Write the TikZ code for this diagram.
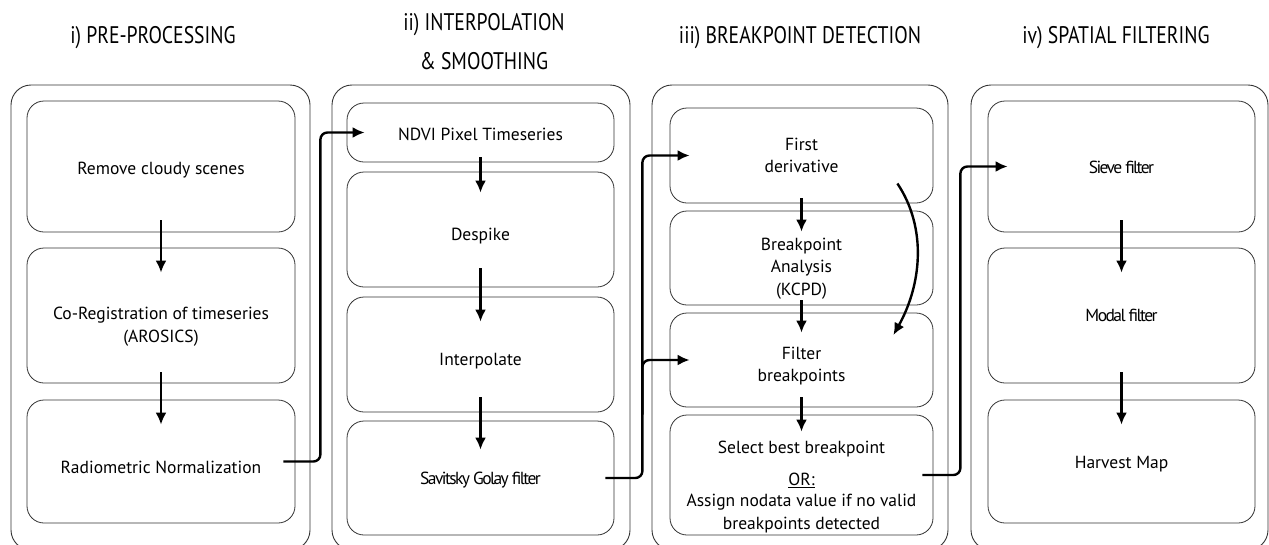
\documentclass[tikz,border=0pt]{standalone}
\usepackage{fontspec}
\setmainfont{PT Sans}
\newfontfamily\tightfont[LetterSpace=-9]{PT Sans}
\newfontfamily\headfont[FakeStretch=0.82]{PT Sans}
\usetikzlibrary{arrows.meta}
% text set lower inside its box, box size unchanged
\newcommand\lowered[2]{\raisebox{-#1pt}[\height][\depth]{\begin{tabular}{@{}c@{}}#2\end{tabular}}}

\begin{document}
\begin{tikzpicture}[
          x=1pt,y=-1pt,
          panel/.style={draw=black!80,line width=0.9pt,rounded corners=20pt},
          stepbox/.style={draw=black!80,line width=0.8pt,rounded corners=17pt,inner sep=0pt,
                          align=center,font=\fontsize{17.5}{22.5}\selectfont},
          head/.style={font=\headfont\fontsize{24}{39}\selectfont,align=center},
          flow/.style={-{Latex[length=12pt,width=11pt]},line width=2.4pt},
          stretch/.style 2 args={shorten <=-#1pt,shorten >=-#2pt}
        ]
        \useasboundingbox (0,0) rectangle (1269,544);
        % panels and titles
        \draw[panel] (11,85) rectangle (310,550);
        \draw[panel] (332,85) rectangle (630,550);
        \draw[panel] (652,85) rectangle (948,550);
        \draw[panel] (971,85) rectangle (1268,550);
        \node[head,anchor=base] (t1) at (153,43) {i) PRE-PROCESSING};
        \node[head] (t2) at (484,42) {ii) INTERPOLATION\\\& SMOOTHING};
        \node[head,anchor=base] (t3) at (800,43) {iii) BREAKPOINT DETECTION};
        \node[head,anchor=base] (t4) at (1116,43) {iv) SPATIAL FILTERING};
        % i) pre-processing
        \node[stepbox,minimum width=268pt,minimum height=131pt] (clouds) at (161,166.5) {\lowered{3}{Remove cloudy scenes}};
        \node[stepbox,minimum width=268pt,minimum height=135pt] (coreg) at (161,315.5) {\lowered{11}{Co-Registration of timeseries\\(AROSICS)}};
        \node[stepbox,minimum width=268pt,minimum height=123pt] (radnorm) at (161,461.5) {\lowered{7}{Radiometric Normalization}};
        % ii) interpolation & smoothing
        \node[stepbox,minimum width=267pt,minimum height=59pt] (ndvi) at (480.5,132.5) {\lowered{3}{NDVI Pixel Timeseries}};
        \node[stepbox,minimum width=267pt,minimum height=115pt] (despike) at (480.5,229.5) {\lowered{6}{Despike}};
        \node[stepbox,minimum width=267pt,minimum height=115pt] (interp) at (480.5,354.5) {\lowered{6}{Interpolate}};
        \node[stepbox,minimum width=267pt,minimum height=114pt] (savgol) at (480.5,478) {\lowered{2}{\tightfont Savitsky Golay filter}};
        % iii) breakpoint detection
        \node[stepbox,minimum width=263pt,minimum height=95pt] (firstd) at (801.5,155.5) {First\\derivative};
        \node[stepbox,minimum width=263pt,minimum height=94pt] (kcpd) at (801.5,258) {\lowered{10}{Breakpoint\\Analysis\\(KCPD)}};
        \node[stepbox,minimum width=263pt,minimum height=94pt] (filt) at (801.5,360) {\lowered{6}{Filter\\breakpoints}};
        \node[stepbox,minimum width=263pt,minimum height=120pt] (select) at (801.5,475)
          {\lowered{12}{Select best breakpoint\\\rule{0pt}{25pt}\underline{OR:}\\[-1pt]Assign nodata value if no valid\\breakpoints detected}};
        % iv) spatial filtering
        \node[stepbox,minimum width=267pt,minimum height=131pt] (sieve) at (1121.5,166.5) {\lowered{2}{\tightfont Sieve filter}};
        \node[stepbox,minimum width=267pt,minimum height=135pt] (modal) at (1121.5,315.5) {\tightfont Modal filter};
        \node[stepbox,minimum width=267pt,minimum height=123pt] (harvest) at (1121.5,461.5) {\lowered{2}{Harvest Map}};
        % arrows inside the panels
        \draw[flow,stretch={12}{25}] (clouds) -- (coreg);
        \draw[flow,stretch={11}{25}] (coreg) -- (radnorm);
        \draw[flow,stretch={5}{21}] (ndvi) -- (despike);
        \draw[flow,stretch={19}{25}] (despike) -- (interp);
        \draw[flow,stretch={15}{29}] (interp) -- (savgol);
        \draw[flow,stretch={5}{21}] (firstd) -- (kcpd);
        \draw[flow,stretch={5}{20}] (kcpd) -- (filt);
        \draw[flow,stretch={10}{17}] (filt) -- (select);
        \draw[flow,stretch={12}{25}] (sieve) -- (modal);
        \draw[flow,stretch={11}{25}] (modal) -- (harvest);
        \draw[flow] ([shift={(-36,28)}]firstd.east) .. controls +(30,45) and +(28,-50) .. ([shift={(-40,-25)}]filt.east);
        % links between the panels
        \draw[flow,rounded corners=7pt] ([xshift=-12pt]radnorm.east) -- ++(37,0) |- ([xshift=18pt]ndvi.west);
        \draw[flow,rounded corners=7pt] ([xshift=-9pt]savgol.east) -- ++(37,0) coordinate (trunk) |- ([xshift=20pt]firstd.west);
        \draw[flow,rounded corners=7pt] (trunk |- select.north) |- ([xshift=20pt]filt.west);
        \draw[flow,rounded corners=7pt] ([xshift=-11pt]select.east) -- ++(38,0) |- ([xshift=20pt]sieve.west);
      \end{tikzpicture}
\end{document}
